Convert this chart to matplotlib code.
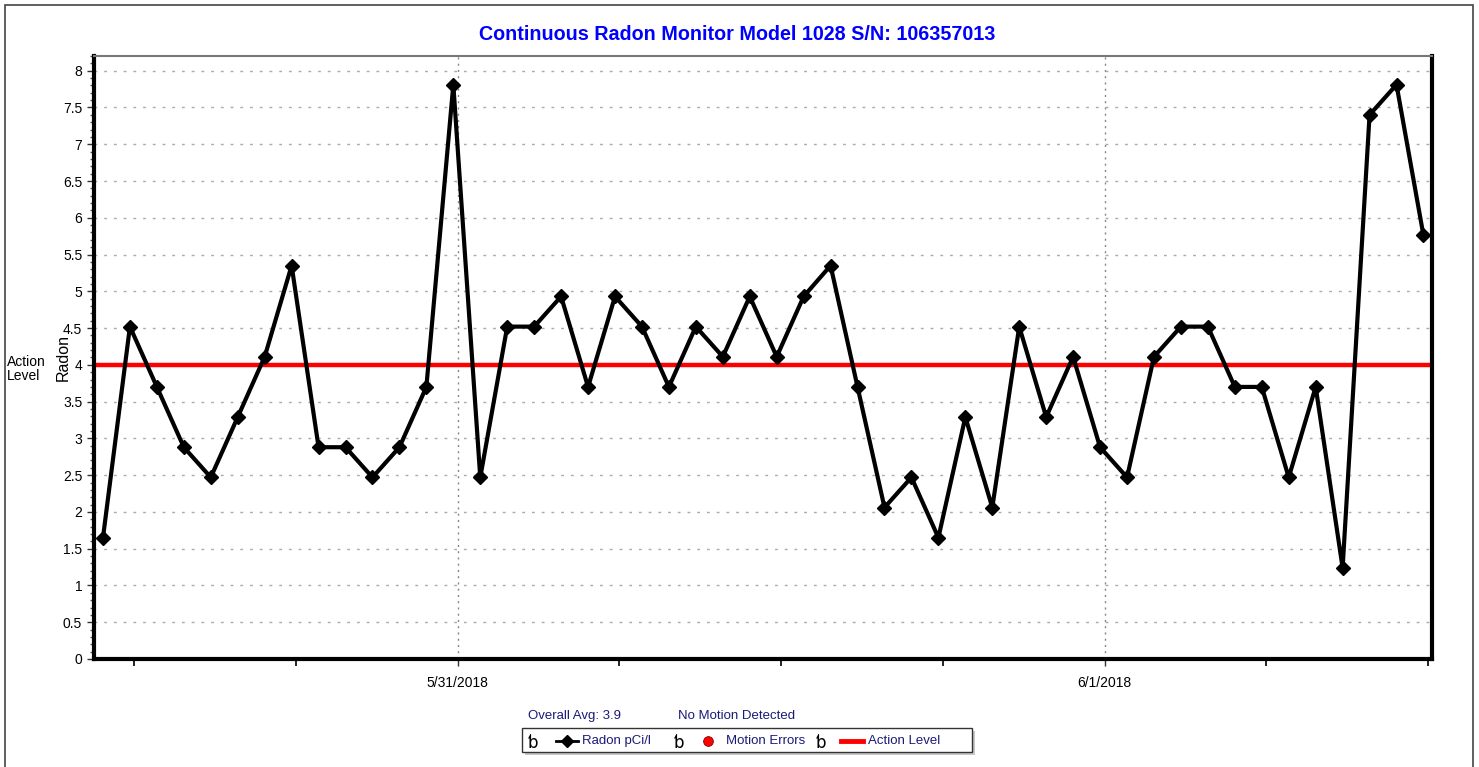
import datetime as dt

import matplotlib
matplotlib.use("Agg")
import matplotlib.dates as mdates
import matplotlib.pyplot as plt
from matplotlib.lines import Line2D
from matplotlib.patches import Rectangle
from matplotlib.ticker import FuncFormatter, MultipleLocator
from matplotlib.transforms import blended_transform_factory

plt.rcParams["font.family"] = ["Liberation Sans", "DejaVu Sans"]

# hourly readings, pCi/l
start = dt.datetime(2018, 5, 30, 10, 50)
radon = [1.65, 4.52, 3.70, 2.88, 2.47, 3.29, 4.11, 5.35, 2.88, 2.88,
         2.47, 2.88, 3.70, 7.81, 2.47, 4.52, 4.52, 4.93, 3.70, 4.93,
         4.52, 3.70, 4.52, 4.11, 4.93, 4.11, 4.93, 5.35, 3.70, 2.06,
         2.47, 1.65, 3.29, 2.06, 4.52, 3.29, 4.11, 2.88, 2.47, 4.11,
         4.52, 4.52, 3.70, 3.70, 2.47, 3.70, 1.24, 7.40, 7.81, 5.76]
times = [start + dt.timedelta(hours=i) for i in range(len(radon))]
action_level = 4.0
overall_avg = 3.9
x_start = dt.datetime(2018, 5, 30, 10, 30)
x_end = dt.datetime(2018, 6, 1, 12, 9)

W, H = 1479, 767
NAVY = "#1a1a78"

fig = plt.figure(figsize=(W / 100, H / 100), dpi=100)


def fx(px):
    return px / W


def fy(py):
    return 1 - py / H


# outer frame
fig.add_artist(Rectangle((fx(5), fy(790)), fx(1473) - fx(5), fy(5) - fy(790),
                         transform=fig.transFigure, fill=False, edgecolor="#444444", linewidth=1.2))

ax = fig.add_axes([fx(94), fy(659), fx(1432) - fx(94), fy(56) - fy(659)])

ax.plot(times, radon, color="black", linewidth=3, marker="D", markersize=7.5, zorder=3)
ax.axhline(action_level, color="#ff0000", linewidth=3.2, zorder=2)

ax.set_xlim(x_start, x_end)
ax.set_ylim(0, 8.2)

ax.xaxis.set_major_locator(mdates.DayLocator())
ax.xaxis.set_major_formatter(mdates.DateFormatter("%-m/%-d/%Y"))
ax.xaxis.set_minor_locator(mdates.HourLocator(byhour=[6, 12, 18]))
ax.yaxis.set_major_locator(MultipleLocator(0.5))
ax.yaxis.set_minor_locator(MultipleLocator(0.1))
ax.yaxis.set_major_formatter(FuncFormatter(lambda v, p: f"{v:g}"))

ax.tick_params(axis="both", which="major", labelsize=10, length=5, width=1, color="#333333")
ax.tick_params(axis="y", which="minor", length=3, width=1, color="#555555")
ax.tick_params(axis="x", which="minor", length=5, width=1.2)
ax.tick_params(axis="x", which="major", pad=7)

ax.grid(True, axis="y", which="major", color="#aaaaaa", linestyle=(0, (2, 5)), linewidth=1)
ax.grid(True, axis="x", which="major", color="#888888", linestyle=(0, (1.5, 3)), linewidth=1)
ax.set_axisbelow(True)

for side in ("left", "bottom", "right"):
    ax.spines[side].set_linewidth(3)
    ax.spines[side].set_color("black")
ax.spines["top"].set_linewidth(1.5)
ax.spines["top"].set_color("#777777")

ax.set_ylabel("Radon", fontsize=11.5)
ax.yaxis.set_label_coords((71 - 94) / 1338, 0.5)
ax.text(fx(7), action_level - 0.06, "Action\nLevel",
        transform=blended_transform_factory(fig.transFigure, ax.transData),
        fontsize=10, ha="left", va="center", linespacing=1.0)

fig.text(0.4983, fy(34), "Continuous Radon Monitor Model 1028 S/N: 106357013",
         color="#0000ff", fontsize=14.2, fontweight="bold", ha="center", va="center")

# summary line
fig.text(fx(528), fy(716), f"Overall Avg: {overall_avg}", color=NAVY, fontsize=9.5, va="center")
fig.text(fx(678), fy(716), "No Motion Detected", color=NAVY, fontsize=9.5, va="center")

# legend box
fig.add_artist(Rectangle((fx(525), fy(755)), fx(975) - fx(525), fy(731) - fy(755),
                         transform=fig.transFigure, facecolor="#c8c8c8", edgecolor="none", zorder=1))
fig.add_artist(Rectangle((fx(522), fy(752)), fx(972) - fx(522), fy(728) - fy(752),
                         transform=fig.transFigure, facecolor="white", edgecolor="#333333",
                         linewidth=1, zorder=2))
ly = fy(741)
for px in (532, 678, 820):
    fig.text(fx(px), fy(743), "\u0185", fontsize=12, family=["DejaVu Sans"], ha="center", va="center", zorder=3)
fig.add_artist(Line2D([fx(556), fx(578)], [ly, ly], color="black", linewidth=2,
                      transform=fig.transFigure, zorder=3))
fig.add_artist(Line2D([fx(567)], [ly], color="black", marker="D", markersize=6,
                      transform=fig.transFigure, zorder=3))
fig.text(fx(582), ly, "Radon pCi/l", color=NAVY, fontsize=9.5, va="center", zorder=3)
fig.add_artist(Line2D([fx(708)], [ly], color="#ff0000", marker="o", markersize=7,
                      markeredgecolor="#800000", markeredgewidth=0.6,
                      transform=fig.transFigure, zorder=3))
fig.text(fx(726), ly, "Motion Errors", color=NAVY, fontsize=9.5, va="center", zorder=3)
fig.add_artist(Line2D([fx(841), fx(863)], [ly, ly], color="#ff0000", linewidth=3.5,
                      transform=fig.transFigure, zorder=3))
fig.text(fx(868), ly, "Action Level", color=NAVY, fontsize=9.5, va="center", zorder=3)

fig.savefig("out.png", dpi=100)
